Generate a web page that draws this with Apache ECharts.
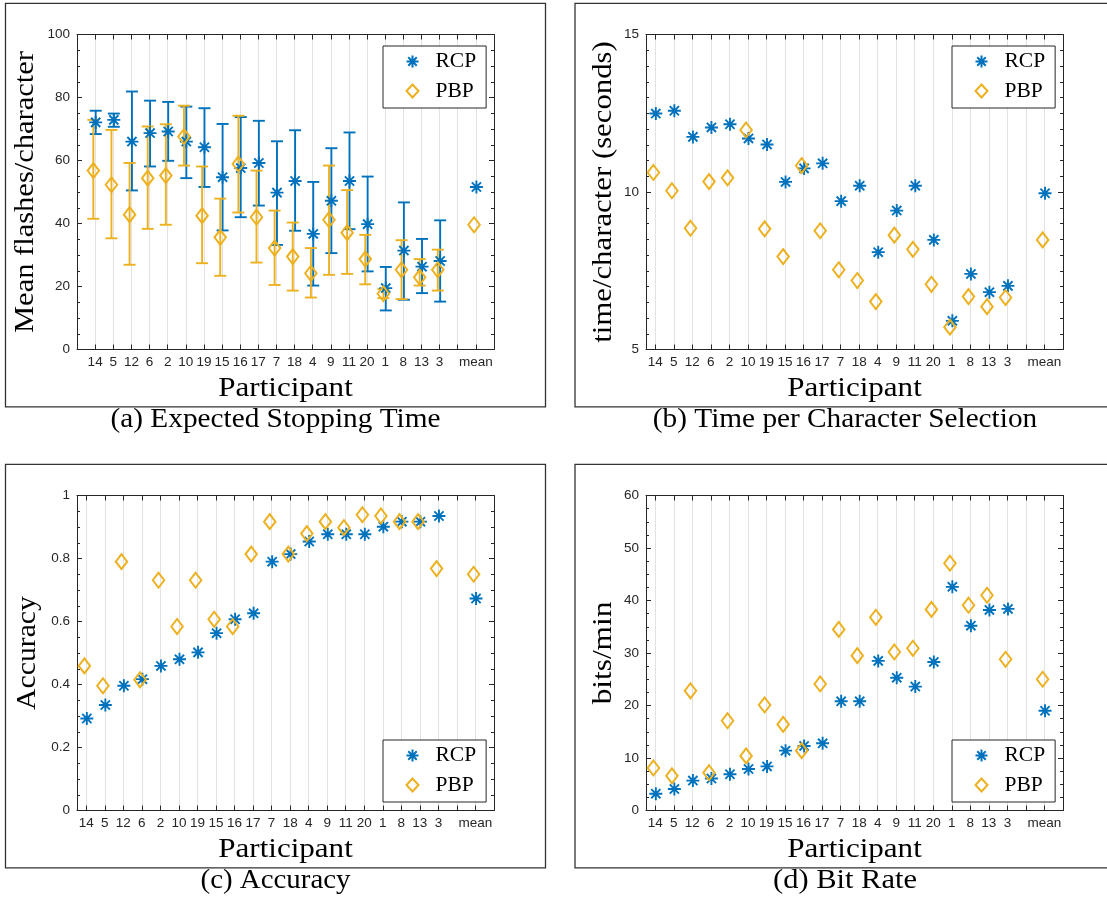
<!DOCTYPE html>
<html>
<head>
<meta charset="utf-8">
<script src="https://cdn.jsdelivr.net/npm/echarts@6/dist/echarts.min.js"></script>
<style>
  html, body { margin: 0; padding: 0; background: #ffffff; }
  #main { width: 1107px; height: 899px; }
</style>
</head>
<body>
<div id="main"></div>
<script>
// Participants in presentation order; slot 21 stays empty, slot 22 holds the mean.
const participants = ['14', '5', '12', '6', '2', '10', '19', '15', '16', '17', '7', '18', '4', '9', '11', '20', '1', '8', '13', '3'];
const tickLabels = participants.concat(['', 'mean']);
const tickPositions = tickLabels.map((_, i) => i + 1);

// (a) Expected stopping time: mean flashes per character with spread
const flashesRCP = [72.1, 72.9, 66.0, 68.7, 69.2, 66.0, 64.2, 54.7, 57.6, 59.2, 49.8, 53.5, 36.7, 47.2, 53.5, 39.8, 19.5, 31.4, 26.3, 28.1];
const flashesRCPMean = 51.6;
const flashesRCPLow = [68.4, 70.7, 50.5, 58.1, 59.9, 54.4, 51.6, 37.8, 42.0, 45.7, 33.2, 37.7, 20.3, 30.6, 38.2, 24.8, 12.4, 15.8, 17.9, 15.2];
const flashesRCPHigh = [75.8, 74.9, 81.9, 79.0, 78.6, 77.1, 76.6, 71.6, 73.8, 72.6, 66.1, 69.6, 53.2, 63.9, 68.9, 54.9, 26.2, 46.7, 35.1, 41.0];
const flashesPBP = [56.8, 52.3, 42.8, 54.4, 55.2, 67.6, 42.5, 35.6, 58.9, 42.0, 32.2, 29.5, 24.2, 41.2, 37.1, 28.7, 17.7, 25.3, 22.9, 25.3];
const flashesPBPMean = 39.6;
const flashesPBPLow = [41.5, 35.3, 26.9, 38.3, 39.6, 58.4, 27.4, 23.4, 43.5, 27.6, 20.5, 18.7, 16.5, 23.7, 24.0, 20.7, 16.3, 16.0, 20.3, 18.7];
const flashesPBPHigh = [72.9, 69.7, 59.2, 70.8, 71.5, 77.4, 58.1, 47.9, 74.2, 56.8, 44.1, 40.3, 32.2, 58.4, 50.6, 36.4, 19.2, 34.7, 28.7, 31.7];

// (b) Time per character selection, seconds
const timeRCP = [12.49, 12.58, 11.75, 12.05, 12.15, 11.70, 11.51, 10.32, 10.75, 10.91, 9.71, 10.20, 8.09, 9.41, 10.20, 8.48, 5.91, 7.40, 6.82, 7.02];
const timeRCPMean = 9.96;
const timePBP = [10.62, 10.04, 8.85, 10.33, 10.45, 11.97, 8.83, 7.95, 10.84, 8.77, 7.53, 7.19, 6.52, 8.63, 8.18, 7.07, 5.71, 6.68, 6.36, 6.65];
const timePBPMean = 8.48;

// (c) Accuracy
const accuracyRCP = [0.292, 0.335, 0.396, 0.417, 0.459, 0.480, 0.502, 0.563, 0.607, 0.626, 0.790, 0.814, 0.854, 0.877, 0.877, 0.877, 0.901, 0.917, 0.917, 0.935];
const accuracyRCPMean = 0.673;
const accuracyPBP = [0.459, 0.396, 0.790, 0.415, 0.731, 0.584, 0.731, 0.607, 0.584, 0.814, 0.917, 0.814, 0.879, 0.917, 0.898, 0.939, 0.935, 0.917, 0.917, 0.768];
const accuracyPBPMean = 0.750;

// (d) Bit rate, bits/min
const bitRateRCP = [3.2, 4.1, 5.7, 6.1, 6.9, 7.9, 8.4, 11.4, 12.3, 12.8, 20.8, 20.8, 28.5, 25.3, 23.6, 28.3, 42.6, 35.2, 38.2, 38.4];
const bitRateRCPMean = 19.0;
const bitRatePBP = [8.1, 6.6, 22.8, 7.2, 17.1, 10.4, 20.1, 16.4, 11.4, 24.1, 34.5, 29.5, 36.8, 30.2, 30.9, 38.3, 47.1, 39.1, 41.0, 28.8];
const bitRatePBPMean = 25.0;

const BLUE = '#0072BD';
const ORANGE = '#EDB120';
const INK = '#262626';
const SERIF = '"Liberation Serif", "Times New Roman", serif';
const SANS = '"Liberation Sans", Arial, Helvetica, sans-serif';
const RCP_SHIFT = 0.03;
const PBP_SHIFT = -0.1;
const MEAN_SLOT = 22;

// eight-spoke asterisk drawn as stroked segments
const ASTERISK = 'path://M6,0L6,12M0,6L12,6M1.76,1.76L10.24,10.24M1.76,10.24L10.24,1.76';

function points(values, mean, shift) {
  return values.map((v, i) => [i + 1 + shift, v]).concat([[MEAN_SLOT + shift, mean]]);
}
function ranges(low, high, shift) {
  return low.map((lo, i) => [i + 1 + shift, lo, high[i]]);
}

function errorBars(color) {
  return function (params, api) {
    const x = api.value(0);
    const lo = api.coord([x, api.value(1)]);
    const hi = api.coord([x, api.value(2)]);
    const cap = 6;
    const style = { stroke: color, lineWidth: 1.9, fill: null };
    return {
      type: 'group',
      children: [
        { type: 'line', shape: { x1: lo[0], y1: lo[1], x2: hi[0], y2: hi[1] }, style },
        { type: 'line', shape: { x1: lo[0] - cap, y1: lo[1], x2: lo[0] + cap, y2: lo[1] }, style },
        { type: 'line', shape: { x1: hi[0] - cap, y1: hi[1], x2: hi[0] + cap, y2: hi[1] }, style }
      ]
    };
  };
}

const axisLine = { show: true, onZero: false, lineStyle: { color: INK, width: 1 } };

function xAxesFor(gridIndex, min) {
  const base = { type: 'value', gridIndex, min, max: 23, axisLine };
  return [
    Object.assign({}, base, {
      position: 'bottom',
      axisTick: { show: true, inside: true, length: 5, customValues: tickPositions, lineStyle: { color: INK } },
      axisLabel: {
        show: true, customValues: tickPositions, margin: 6,
        formatter: v => tickLabels[Math.round(v) - 1] || '',
        fontFamily: SANS, fontSize: 13.5, color: INK
      },
      splitLine: { show: true, lineStyle: { color: '#e2e2e2', width: 1 } }
    }),
    Object.assign({}, base, {
      position: 'top',
      axisTick: { show: true, inside: true, length: 5, customValues: tickPositions, lineStyle: { color: INK } },
      axisLabel: { show: false },
      splitLine: { show: false }
    })
  ];
}

function yAxesFor(gridIndex, min, max, interval, minorSplit) {
  const base = {
    type: 'value', gridIndex, min, max, interval, axisLine,
    axisTick: { show: true, inside: true, length: 5, lineStyle: { color: INK } },
    minorTick: { show: true, splitNumber: minorSplit, length: 3, lineStyle: { color: INK } },
    splitLine: { show: false }
  };
  return [
    Object.assign({}, base, {
      position: 'left',
      axisLabel: { show: true, margin: 7, fontFamily: SANS, fontSize: 13.5, color: INK }
    }),
    Object.assign({}, base, { position: 'right', axisLabel: { show: false } })
  ];
}

function scatter(name, panel, data, isRCP) {
  return {
    type: 'scatter', name, xAxisIndex: panel * 2, yAxisIndex: panel * 2,
    data,
    symbol: isRCP ? ASTERISK : 'diamond',
    symbolSize: isRCP ? 13 : [11.5, 15],
    itemStyle: { color: 'none', borderColor: isRCP ? BLUE : ORANGE, borderWidth: isRCP ? 1.9 : 2, opacity: 1 },
    emphasis: { disabled: true },
    z: 3
  };
}

function rangeSeries(name, panel, data, color) {
  return {
    type: 'custom', name, xAxisIndex: panel * 2, yAxisIndex: panel * 2,
    data, renderItem: errorBars(color),
    encode: { x: 0, y: [1, 2] },
    z: 2
  };
}

function legendAt(left, top) {
  return {
    orient: 'vertical', left, top,
    data: ['RCP', 'PBP'],
    itemWidth: 12, itemHeight: 13, itemGap: 7.5,
    padding: [4.5, 10, 6, 21],
    backgroundColor: '#ffffff', borderColor: INK, borderWidth: 1, borderRadius: 0,
    selectedMode: false,
    textStyle: { fontFamily: SERIF, fontSize: 21.5, color: '#000', lineHeight: 20, padding: [0, 0, 0, 12] }
  };
}

function label(text, x, y, size, scaleX, vertical) {
  return {
    type: 'text', x, y, scaleX,
    rotation: vertical ? Math.PI / 2 : 0,
    style: {
      text, fontFamily: SERIF, fontSize: size, fill: '#000',
      align: 'center', verticalAlign: 'middle', textAlign: 'center', textVerticalAlign: 'middle'
    },
    z: 10
  };
}

function frame(x, y) {
  return {
    type: 'rect', shape: { x, y, width: 540, height: 403.5 },
    style: { fill: 'none', stroke: '#333333', lineWidth: 1.3 }, z: 0
  };
}

const ROW2 = 461;

const option = {
  animation: false,
  backgroundColor: '#ffffff',
  grid: [
    { left: 77, top: 34.5, width: 417, height: 315, containLabel: false, outerBoundsMode: 'none' },
    { left: 646, top: 34.5, width: 417, height: 315, containLabel: false, outerBoundsMode: 'none' },
    { left: 77, top: 34.5 + ROW2, width: 417, height: 315, containLabel: false, outerBoundsMode: 'none' },
    { left: 646, top: 34.5 + ROW2, width: 417, height: 315, containLabel: false, outerBoundsMode: 'none' }
  ],
  xAxis: [].concat(
    xAxesFor(0, 0),
    xAxesFor(1, 0.5),
    xAxesFor(2, 0.5),
    xAxesFor(3, 0.5)
  ),
  yAxis: [].concat(
    yAxesFor(0, 0, 100, 20, 4),
    yAxesFor(1, 5, 15, 5, 10),
    yAxesFor(2, 0, 1, 0.2, 4),
    yAxesFor(3, 0, 60, 10, 4)
  ),
  legend: [
    legendAt(383, 46),
    legendAt(952, 46),
    legendAt(383, 740),
    legendAt(952, 740)
  ],
  series: [
    rangeSeries('RCP spread', 0, ranges(flashesRCPLow, flashesRCPHigh, RCP_SHIFT), BLUE),
    scatter('RCP', 0, points(flashesRCP, flashesRCPMean, RCP_SHIFT), true),
    rangeSeries('PBP spread', 0, ranges(flashesPBPLow, flashesPBPHigh, PBP_SHIFT), ORANGE),
    scatter('PBP', 0, points(flashesPBP, flashesPBPMean, PBP_SHIFT), false),

    scatter('RCP', 1, points(timeRCP, timeRCPMean, RCP_SHIFT), true),
    scatter('PBP', 1, points(timePBP, timePBPMean, PBP_SHIFT), false),

    scatter('RCP', 2, points(accuracyRCP, accuracyRCPMean, RCP_SHIFT), true),
    scatter('PBP', 2, points(accuracyPBP, accuracyPBPMean, PBP_SHIFT), false),

    scatter('RCP', 3, points(bitRateRCP, bitRateRCPMean, RCP_SHIFT), true),
    scatter('PBP', 3, points(bitRatePBP, bitRatePBPMean, PBP_SHIFT), false)
  ],
  graphic: [
    frame(5.5, 3.3),
    frame(575, 3.3),
    frame(5.5, 3.3 + ROW2),
    frame(575, 3.3 + ROW2),

    label('Mean flashes/character', 26, 192, 27, 1.13, true),
    label('time/character (seconds)', 604, 192, 27, 1.14, true),
    label('Accuracy', 28, 192 + ROW2, 27, 1.10, true),
    label('bits/min', 604, 192 + ROW2, 27, 1.16, true),

    label('Participant', 285.5, 389, 27, 1.15, false),
    label('Participant', 854.5, 389, 27, 1.15, false),
    label('Participant', 285.5, 389 + ROW2, 27, 1.15, false),
    label('Participant', 854.5, 389 + ROW2, 27, 1.15, false),

    label('(a) Expected Stopping Time', 275.5, 420, 26.5, 1.105, false),
    label('(b) Time per Character Selection', 845, 420, 26.5, 1.105, false),
    label('(c) Accuracy', 275.5, 420 + ROW2, 26.5, 1.09, false),
    label('(d) Bit Rate', 845, 420 + ROW2, 26.5, 1.15, false)
  ]
};

const chart = echarts.init(document.getElementById('main'), null, { renderer: 'canvas' });
chart.setOption(option);
</script>
</body>
</html>
